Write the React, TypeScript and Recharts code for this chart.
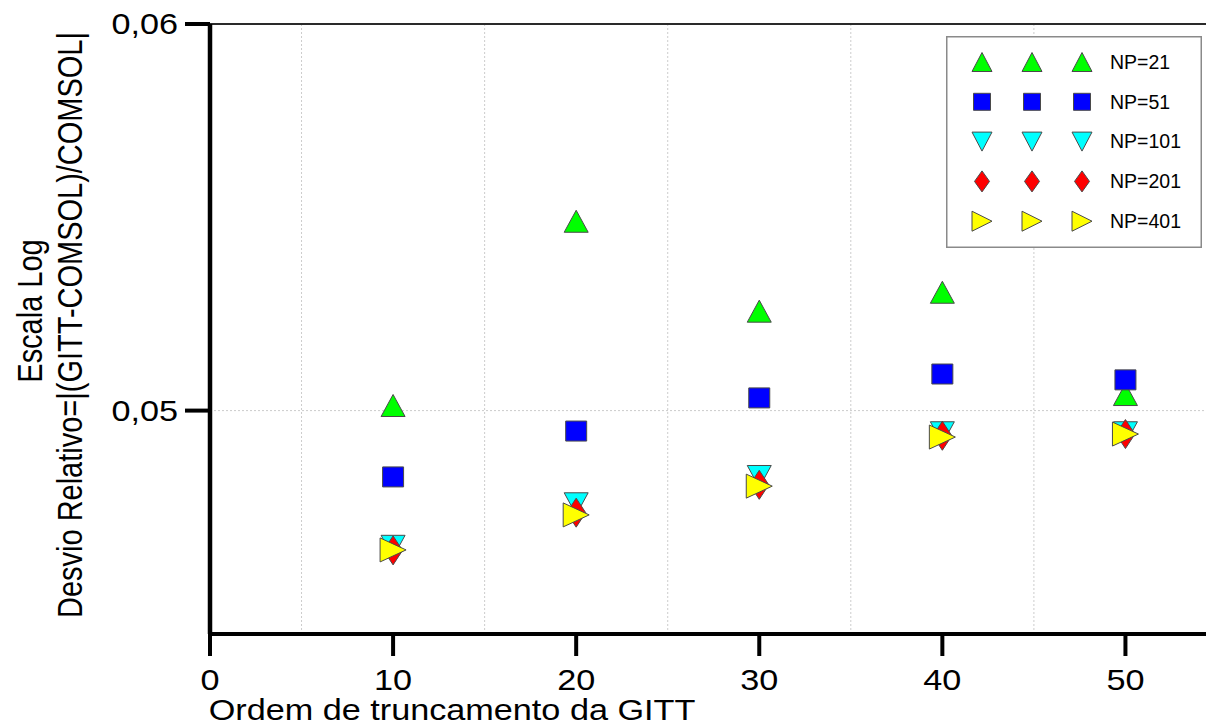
import { ScatterChart, Scatter, XAxis, YAxis, ReferenceLine, Legend, Label } from "recharts";

const FONT = '"Liberation Sans", Arial, Helvetica, sans-serif';
// axis lettering is drawn a little wider than tall
const SX = 1.18;

const ORDERS = [10, 20, 30, 40, 50];
const X_TICKS = [0, 10, 20, 30, 40, 50];
const Y_TICKS = [0.05, 0.06];
const X_GRID = [5, 15, 25, 35, 45];

const NP21 = [0.05012, 0.05467, 0.0524, 0.05287, 0.05038];
const NP51 = [0.04846, 0.04952, 0.0503, 0.05087, 0.05073];
const NP101 = [0.0469, 0.04785, 0.04847, 0.04948, 0.04948];
const NP201 = [0.04681, 0.04765, 0.04828, 0.04941, 0.04945];
const NP401 = [0.04682, 0.0476, 0.04825, 0.04938, 0.04945];

type Kind = "up" | "square" | "down" | "diamond" | "right";

const SERIES: { name: string; values: number[]; kind: Kind; fill: string }[] = [
  { name: "NP=21", values: NP21, kind: "up", fill: "#00ff00" },
  { name: "NP=51", values: NP51, kind: "square", fill: "#0000ff" },
  { name: "NP=101", values: NP101, kind: "down", fill: "#00ffff" },
  { name: "NP=201", values: NP201, kind: "diamond", fill: "#ff0000" },
  { name: "NP=401", values: NP401, kind: "right", fill: "#ffff00" },
];

const PLOT_SIZE: Record<Kind, [number, number]> = {
  up: [24, 22],
  square: [21, 20],
  down: [24, 22],
  diamond: [19, 29],
  right: [26, 24],
};

const LEGEND_SIZE: Record<Kind, [number, number]> = {
  up: [20, 19],
  square: [17, 17],
  down: [20, 19],
  diamond: [15, 21],
  right: [20, 20],
};

function markerPath(kind: Kind, cx: number, cy: number, w: number, h: number) {
  const l = cx - w / 2, r = cx + w / 2, t = cy - h / 2, b = cy + h / 2;
  switch (kind) {
    case "up":
      return `M${cx},${t}L${r},${b}L${l},${b}Z`;
    case "down":
      return `M${l},${t}L${r},${t}L${cx},${b}Z`;
    case "diamond":
      return `M${cx},${t}L${r},${cy}L${cx},${b}L${l},${cy}Z`;
    case "right":
      return `M${l},${t}L${r},${cy}L${l},${b}Z`;
    default:
      return `M${l},${t}L${r},${t}L${r},${b}L${l},${b}Z`;
  }
}

function Marker({ kind, cx, cy, fill, size }: { kind: Kind; cx: number; cy: number; fill: string; size: [number, number] }) {
  return <path d={markerPath(kind, cx, cy, size[0], size[1])} fill={fill} stroke="#4a4a4a" strokeWidth={1} />;
}

const fmt = (v: number) => v.toFixed(2).replace(".", ",");

const XTick = ({ x, y, payload }: any) => (
  <text
    transform={`translate(${x},${y + 32}) scale(${SX},1)`}
    textAnchor="middle"
    fontSize={29}
    fontFamily={FONT}
    fill="#000"
  >
    {payload.value}
  </text>
);

const YTick = ({ x, y, payload }: any) => (
  <text
    transform={`translate(${x - 5},${y}) scale(${SX},1)`}
    textAnchor="end"
    dy="0.35em"
    fontSize={29}
    fontFamily={FONT}
    fill="#000"
  >
    {fmt(payload.value)}
  </text>
);

const XTitle = ({ viewBox }: any) => (
  <text
    transform={`translate(${viewBox.x + 242},${viewBox.y + 86}) scale(${SX},1)`}
    textAnchor="middle"
    fontSize={29}
    fontFamily={FONT}
    fill="#000"
  >
    Ordem de truncamento da GITT
  </text>
);

const YTitle = ({ viewBox }: any) => {
  const mid = viewBox.y + viewBox.height / 2;
  return (
    <g fontSize={29} fontFamily={FONT} fill="#000">
      <text transform={`translate(${viewBox.x + 30},${mid - 18}) scale(${SX},1) rotate(-90)`} textAnchor="middle" dy="0.35em">
        Escala Log
      </text>
      <text transform={`translate(${viewBox.x + 70},${mid - 4}) scale(${SX},1) rotate(-90)`} textAnchor="middle" dy="0.35em">
        Desvio Relativo=|(GITT-COMSOL)/COMSOL|
      </text>
    </g>
  );
};

const LegendBox = () => (
  <svg width={256} height={212} style={{ display: "block" }}>
    <rect x={0.75} y={0.75} width={254.5} height={210.5} fill="#fff" stroke="#8a8a8a" strokeWidth={1.5} />
    {SERIES.map((s, i) => {
      const cy = 26 + i * 39.8;
      return (
        <g key={s.name}>
          {[36, 86, 136].map((cx) => (
            <Marker key={cx} kind={s.kind} cx={cx} cy={cy} fill={s.fill} size={LEGEND_SIZE[s.kind]} />
          ))}
          <text x={164} y={cy} dy="0.35em" fontSize={19.5} fontFamily={FONT} fill="#000">
            {s.name}
          </text>
        </g>
      );
    })}
  </svg>
);

export default function App() {
  return (
    <div style={{ position: "absolute", left: 0, top: 0, background: "#fff" }}>
      <ScatterChart width={1206} height={726} margin={{ top: 24, right: 0, bottom: 22, left: 0 }}>
        <XAxis
          type="number"
          dataKey="x"
          domain={[0, 54.4]}
          ticks={X_TICKS}
          allowDataOverflow
          height={70}
          axisLine={{ stroke: "#000", strokeWidth: 4 }}
          tickLine={{ stroke: "#000", strokeWidth: 4 }}
          tickSize={22}
          tick={<XTick />}
        >
          <Label content={<XTitle />} />
        </XAxis>
        <YAxis
          type="number"
          dataKey="y"
          scale="log"
          domain={[0.045, 0.06]}
          ticks={Y_TICKS}
          allowDataOverflow
          width={210}
          axisLine={{ stroke: "#000", strokeWidth: 4.5 }}
          tickLine={{ stroke: "#000", strokeWidth: 4 }}
          tickSize={25}
          tick={<YTick />}
        >
          <Label content={<YTitle />} />
        </YAxis>
        {X_GRID.map((g) => (
          <ReferenceLine key={g} x={g} stroke="#cccccc" strokeWidth={1} strokeDasharray="2 2" />
        ))}
        <ReferenceLine y={0.05} stroke="#cccccc" strokeWidth={1} strokeDasharray="2 2" />
        <ReferenceLine y={0.06} stroke="#2a2a2a" strokeWidth={2} />
        <Legend
          layout="vertical"
          align="center"
          verticalAlign="middle"
          wrapperStyle={{ left: 946, top: 36, width: 256, height: 212 }}
          content={<LegendBox />}
        />
        {SERIES.map((s) => (
          <Scatter
            key={s.name}
            name={s.name}
            data={ORDERS.map((x, i) => ({ x, y: s.values[i] }))}
            isAnimationActive={false}
            shape={(p: any) => <Marker kind={s.kind} cx={p.cx} cy={p.cy} fill={s.fill} size={PLOT_SIZE[s.kind]} />}
          />
        ))}
      </ScatterChart>
    </div>
  );
}
